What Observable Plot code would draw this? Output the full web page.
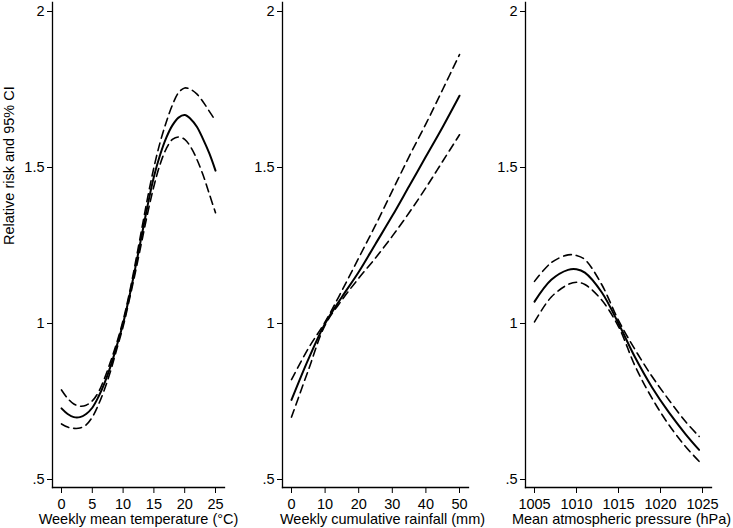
<!DOCTYPE html>
<html><head><meta charset="utf-8">
<script src="https://cdn.jsdelivr.net/npm/d3@7"></script>
<script src="https://cdn.jsdelivr.net/npm/@observablehq/plot@0.6"></script>
<style>
body{margin:0;background:#fff}
#chart{position:relative;width:733px;height:528px;background:#fff}
.panel{position:absolute;top:0}
</style>
</head><body><div id="chart"></div>
<script>
// ---- Data ----
const yTicks = [0.5, 1, 1.5, 2];
const yLabel = "Relative risk and 95% CI";

// Panel 1: temperature
const tempX = [0,1,2,3,4,5,6,7,8,9,10,11,12,13,14,15,16,17,18,19,20,21,22,23,24,25];
const tempRR = [0.728,0.71,0.70,0.70,0.71,0.73,0.765,0.81,0.865,0.93,1.0,1.085,1.18,1.28,1.38,1.47,1.54,1.595,1.635,1.66,1.668,1.655,1.63,1.59,1.545,1.49];
const tempHi = [0.787,0.76,0.742,0.735,0.738,0.752,0.78,0.825,0.88,0.94,1.01,1.095,1.195,1.30,1.405,1.50,1.58,1.645,1.70,1.74,1.755,1.75,1.735,1.71,1.68,1.65];
const tempLo = [0.678,0.668,0.664,0.665,0.675,0.70,0.74,0.79,0.85,0.92,0.99,1.075,1.165,1.26,1.355,1.44,1.51,1.56,1.59,1.598,1.59,1.565,1.525,1.475,1.415,1.355];
const tempTicks = [0,5,10,15,20,25];
const tempTitle = "Weekly mean temperature (°C)";

// Panel 2: rainfall
const rainX = [0,5,10,15,20,25,30,35,40,45,50];
const rainRR = [0.755,0.885,1.0,1.085,1.165,1.255,1.345,1.44,1.535,1.63,1.73];
const rainHi = [0.82,0.92,1.005,1.105,1.21,1.315,1.425,1.535,1.64,1.75,1.862];
const rainLo = [0.70,0.85,0.995,1.075,1.145,1.21,1.28,1.355,1.435,1.52,1.605];
const rainTicks = [0,10,20,30,40,50];
const rainTitle = "Weekly cumulative rainfall (mm)";

// Panel 3: pressure
const presX = [1005,1007,1009,1010,1011,1013,1015,1017,1019,1021,1023,1024.6];
const presRR = [1.07,1.14,1.172,1.174,1.163,1.10,1.0,0.89,0.795,0.715,0.645,0.595];
const presHi = [1.135,1.195,1.22,1.218,1.205,1.125,1.01,0.915,0.83,0.755,0.685,0.638];
const presLo = [1.005,1.085,1.125,1.132,1.125,1.075,0.99,0.862,0.76,0.675,0.605,0.558];
const presTicks = [1005,1010,1015,1020,1025];
const presTitle = "Mean atmospheric pressure (hPa)";

const fmtY = d => d === 0.5 ? ".5" : String(d);
const FS = 14.5;

function panel(o) {
  const rows = o.xs.map((x, i) => ({x, rr: o.rr[i], hi: o.hi[i], lo: o.lo[i]}));
  const marks = [
    Plot.axisX({ticks: o.ticks, tickSize: 6, tickPadding: 5, label: null, fontSize: FS, tickFormat: d => String(d)}),
    Plot.axisY({ticks: yTicks, tickSize: 5, tickPadding: 3, label: null, fontSize: FS, tickFormat: fmtY}),
    Plot.frame({anchor: "left", stroke: "black", strokeWidth: 1.3}),
    Plot.frame({anchor: "bottom", stroke: "black", strokeWidth: 1.3}),
    Plot.line(rows, {x: "x", y: "hi", stroke: "black", strokeWidth: 1.6, strokeDasharray: "8,5", curve: "catmull-rom"}),
    Plot.line(rows, {x: "x", y: "lo", stroke: "black", strokeWidth: 1.6, strokeDasharray: "8,5", curve: "catmull-rom"}),
    Plot.line(rows, {x: "x", y: "rr", stroke: "black", strokeWidth: 2, curve: "catmull-rom"}),
    Plot.text([o.title], {frameAnchor: "bottom", lineAnchor: "top", dy: 26, dx: o.titleDx, fontSize: FS, text: d => d, fill: "black"})
  ];
  if (o.ylabel) {
    marks.push(Plot.text([o.ylabel], {frameAnchor: "left", rotate: -90, dx: -43.5, lineAnchor: "middle", fontSize: FS, text: d => d, fill: "black"}));
  }
  const svg = Plot.plot({
    width: o.width, height: 528,
    marginTop: 2, marginBottom: 41, marginLeft: o.ml, marginRight: o.mr,
    style: {fontFamily: "'Liberation Sans', Arial, sans-serif", fontSize: "14.5px", color: "black", background: "transparent", overflow: "visible"},
    x: {domain: o.domain, insetLeft: 9, insetRight: 9},
    y: {domain: [0.5, 2], insetTop: 9, insetBottom: 8},
    marks
  });
  const div = document.createElement("div");
  div.className = "panel";
  div.style.left = o.left + "px";
  div.appendChild(svg);
  document.getElementById("chart").appendChild(div);
}

panel({left: 0, width: 244, ml: 52, mr: 20, domain: [0, 25], xs: tempX, rr: tempRR, hi: tempHi, lo: tempLo, ticks: tempTicks, title: tempTitle, titleDx: 0, ylabel: yLabel});
panel({left: 244, width: 245, ml: 38, mr: 21, domain: [0, 50], xs: rainX, rr: rainRR, hi: rainHi, lo: rainLo, ticks: rainTicks, title: rainTitle, titleDx: 7});
panel({left: 489, width: 244, ml: 36, mr: 22, domain: [1005, 1025], xs: presX, rr: presRR, hi: presHi, lo: presLo, ticks: presTicks, title: presTitle, titleDx: 3});
</script></body></html>
